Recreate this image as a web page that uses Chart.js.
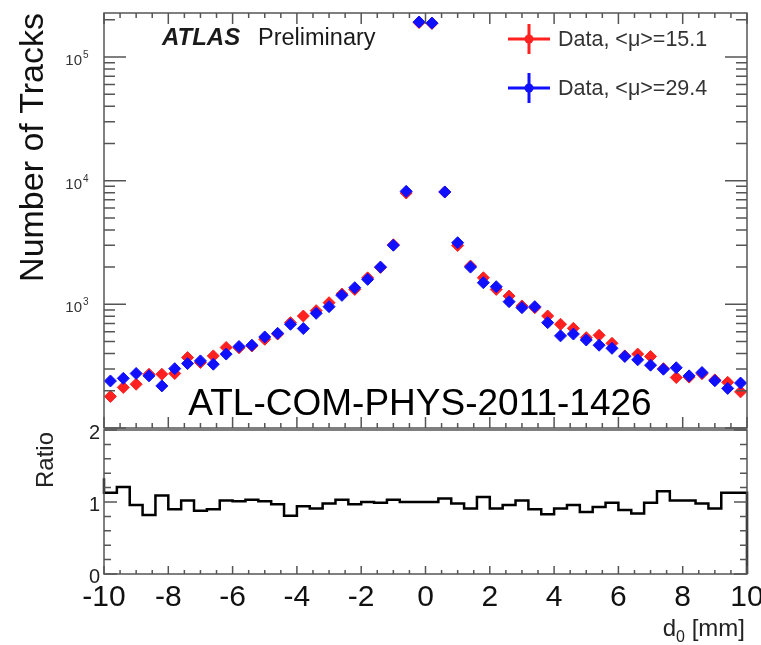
<!DOCTYPE html>
<html>
<head>
<meta charset="utf-8">
<script src="https://cdn.jsdelivr.net/npm/chart.js@4.4.1/dist/chart.umd.min.js"></script>
<style>
  body { margin: 0; background: #fff; }
  #wrap { position: relative; width: 761px; height: 645px; }
  canvas { position: absolute; left: 0; top: 0; }
</style>
</head>
<body>
<div id="wrap">
  <canvas id="tracks" width="761" height="645"></canvas>
  <canvas id="ratio" width="761" height="645"></canvas>
</div>
<script>
// bin centres of d0 [mm] (0.4 mm bins)
const binCenters = [-9.8, -9.4, -9.0, -8.6, -8.2, -7.8, -7.4, -7.0, -6.6, -6.2,
  -5.8, -5.4, -5.0, -4.6, -4.2, -3.8, -3.4, -3.0, -2.6, -2.2,
  -1.8, -1.4, -1.0, -0.6, -0.2, 0.2, 0.6, 1.0, 1.4, 1.8,
  2.2, 2.6, 3.0, 3.4, 3.8, 4.2, 4.6, 5.0, 5.4, 5.8,
  6.2, 6.6, 7.0, 7.4, 7.8, 8.2, 8.6, 9.0, 9.4, 9.8];
const binHalfWidth = 0.2;

// Data, <mu>=15.1 (rood)
const tracksMu15 = [180, 213, 226, 272, 272, 276, 371, 339, 383, 448,
  445, 461, 522, 575, 711, 805, 889, 1031, 1211, 1321,
  1637, 1990, 3030, 7950, 190000, 187000, 8100, 2990, 2040, 1640,
  1321, 1167, 970, 940, 805, 690, 640, 538, 562, 484,
  383, 396, 379, 302, 256, 258, 275, 245, 234, 196];

// Data, <mu>=29.4 (blauw)
const tracksMu29 = [240, 252, 276, 264, 219, 302, 332, 349, 328, 396,
  456, 467, 545, 583, 690, 637, 846, 958, 1182, 1363,
  1592, 2000, 3007, 8200, 192000, 188000, 8110, 3150, 2000, 1496,
  1389, 1051, 940, 958, 711, 556, 575, 515, 467, 441,
  379, 356, 322, 299, 307, 264, 281, 241, 209, 231];

// ratio 29.4 / 15.1
const ratioValues = [1.33, 1.13, 1.21, 0.96, 0.82, 1.09, 0.90, 1.02, 0.88, 0.90,
  1.02, 1.01, 1.03, 1.01, 0.97, 0.81, 0.94, 0.91, 0.98, 1.03,
  0.97, 1.00, 0.99, 1.03, 1.00, 1.00, 1.00, 1.05, 0.98, 0.91,
  1.07, 0.91, 0.96, 1.02, 0.90, 0.83, 0.91, 0.96, 0.86, 0.93,
  0.99, 0.89, 0.84, 0.99, 1.15, 1.02, 1.02, 0.98, 0.91, 1.13];

const xTickLabels = [-10, -8, -6, -4, -2, 0, 2, 4, 6, 8, 10];
const yDecades = [1000, 10000, 100000];
const yDecadeExp = ['3', '4', '5'];
const ratioTickLabels = [0, 1, 2];

const seriesNames = ['Data, <\u03bc>=15.1', 'Data, <\u03bc>=29.4'];
const FONT = '"Liberation Sans", Arial, sans-serif';

// ROOT-achtige ticks naar binnen
function xTicks(ctx, x, yEdge, dir, majLen, minLen) {
  for (let v = -10; v <= 10.001; v += 0.5) {
    const px = x.getPixelForValue(v);
    const major = Math.abs(v / 2 - Math.round(v / 2)) < 1e-6;
    const len = major ? majLen : minLen;
    ctx.beginPath();
    ctx.moveTo(px, yEdge);
    ctx.lineTo(px, yEdge + dir * len);
    ctx.stroke();
  }
}

const topDeco = {
  id: 'topDeco',
  afterDatasetsDraw(chart) {
    const { ctx, chartArea: a, scales: { x, y } } = chart;
    ctx.save();
    ctx.strokeStyle = '#555';
    ctx.lineWidth = 1.5;
    ctx.strokeRect(a.left, a.top, a.right - a.left, a.bottom - a.top);

    // log ticks links en rechts
    for (let d = 100; d < 1e6; d *= 10) {
      for (let m = 1; m < 10; m++) {
        const v = d * m;
        if (v < y.min || v > y.max) continue;
        const py = y.getPixelForValue(v);
        const len = m === 1 ? 22 : 11;
        ctx.beginPath();
        ctx.moveTo(a.left, py); ctx.lineTo(a.left + len, py);
        ctx.moveTo(a.right, py); ctx.lineTo(a.right - len, py);
        ctx.stroke();
      }
    }
    xTicks(ctx, x, a.top, 1, 11, 5);
    xTicks(ctx, x, a.bottom, -1, 11, 5);

    // y labels 10^n
    ctx.fillStyle = '#333';
    yDecades.forEach((v, i) => {
      const py = y.getPixelForValue(v) + 8;
      ctx.font = '15px ' + FONT;
      ctx.textAlign = 'right';
      ctx.textBaseline = 'alphabetic';
      ctx.fillText('10', 82, py);
      ctx.font = '10px ' + FONT;
      ctx.textAlign = 'left';
      ctx.fillText(yDecadeExp[i], 83, py - 7);
    });

    // y titel
    ctx.save();
    ctx.translate(43, 13);
    ctx.rotate(-Math.PI / 2);
    ctx.font = '34px ' + FONT;
    ctx.fillStyle = '#111';
    ctx.textAlign = 'right';
    ctx.fillText('Number of Tracks', 0, 0);
    ctx.restore();

    // ATLAS Preliminary
    ctx.fillStyle = '#1a1a1a';
    ctx.textAlign = 'left';
    ctx.font = 'italic bold 24px ' + FONT;
    ctx.fillText('ATLAS', 162, 45);
    ctx.font = '23.5px ' + FONT;
    ctx.fillText('Preliminary', 258, 45);

    // legenda
    const legY = [39, 88];
    const legCol = ['#ff2020', '#1010ff'];
    legY.forEach((ly, i) => {
      ctx.strokeStyle = legCol[i];
      ctx.fillStyle = legCol[i];
      ctx.lineWidth = 3;
      ctx.beginPath();
      ctx.moveTo(508, ly); ctx.lineTo(550, ly);
      ctx.moveTo(529, ly - 15); ctx.lineTo(529, ly + 15);
      ctx.stroke();
      ctx.beginPath();
      ctx.arc(529, ly, 4.5, 0, Math.PI * 2);
      ctx.fill();
      ctx.fillStyle = '#333';
      ctx.font = '21.5px ' + FONT;
      ctx.textBaseline = 'alphabetic';
      ctx.fillText(seriesNames[i], 558, ly + 7);
    });

    // document nummer
    ctx.fillStyle = '#000';
    ctx.font = '37px ' + FONT;
    ctx.textAlign = 'center';
    ctx.fillText('ATL-COM-PHYS-2011-1426', 420, 415);
    ctx.restore();
  }
};

const bottomDeco = {
  id: 'bottomDeco',
  afterDatasetsDraw(chart) {
    const { ctx, chartArea: a, scales: { x, y } } = chart;
    ctx.save();
    ctx.strokeStyle = '#555';
    ctx.lineWidth = 1.5;
    ctx.strokeRect(a.left, a.top, a.right - a.left, a.bottom - a.top);
    for (let i = 0; i <= 10; i++) {
      const v = i * 0.2;
      const py = y.getPixelForValue(v);
      const len = i % 5 === 0 ? 13 : 7;
      ctx.beginPath();
      ctx.moveTo(a.left, py); ctx.lineTo(a.left + len, py);
      ctx.moveTo(a.right, py); ctx.lineTo(a.right - len, py);
      ctx.stroke();
    }
    xTicks(ctx, x, a.bottom, -1, 8, 4);

    // ratio labels
    ctx.fillStyle = '#222';
    ctx.font = '20px ' + FONT;
    ctx.textAlign = 'right';
    ctx.textBaseline = 'alphabetic';
    ratioTickLabels.forEach(v => {
      ctx.fillText(String(v), 100, y.getPixelForValue(v) + 9);
    });

    // x labels
    ctx.fillStyle = '#111';
    ctx.font = '30px ' + FONT;
    ctx.textAlign = 'center';
    xTickLabels.forEach(v => {
      ctx.fillText(String(v), x.getPixelForValue(v), 606);
    });

    // x titel d0 [mm]
    ctx.fillStyle = '#222';
    ctx.font = '24px ' + FONT;
    const w1 = ctx.measureText('d').width;
    const w3 = ctx.measureText(' [mm]').width;
    ctx.font = '16px ' + FONT;
    const w2 = ctx.measureText('0').width;
    let xs = 745 - (w1 + w2 + w3);
    ctx.textAlign = 'left';
    ctx.font = '24px ' + FONT;
    ctx.fillText('d', xs, 636);
    ctx.font = '16px ' + FONT;
    ctx.fillText('0', xs + w1, 642);
    ctx.font = '24px ' + FONT;
    ctx.fillText(' [mm]', xs + w1 + w2, 636);

    // y titel Ratio
    ctx.save();
    ctx.translate(53, 432);
    ctx.rotate(-Math.PI / 2);
    ctx.font = '24px ' + FONT;
    ctx.fillStyle = '#222';
    ctx.textAlign = 'right';
    ctx.fillText('Ratio', 0, 0);
    ctx.restore();
    ctx.restore();
  }
};

const baseOptions = {
  responsive: false,
  animation: false,
  events: [],
  plugins: { legend: { display: false }, tooltip: { enabled: false } }
};

new Chart(document.getElementById('tracks').getContext('2d'), {
  type: 'scatter',
  data: {
    datasets: [
      {
        label: seriesNames[1],
        data: binCenters.map((c, i) => ({ x: c, y: tracksMu29[i] })),
        pointStyle: 'rectRot',
        pointRadius: 6,
        backgroundColor: '#1010ff',
        borderColor: '#1010ff',
        order: 0
      },
      {
        label: seriesNames[0],
        data: binCenters.map((c, i) => ({ x: c, y: tracksMu15[i] })),
        pointStyle: 'rectRot',
        pointRadius: 6,
        backgroundColor: '#ff2020',
        borderColor: '#ff2020',
        order: 1
      }
    ]
  },
  options: {
    ...baseOptions,
    layout: { padding: { left: 104, top: 13, right: 14, bottom: 217 } },
    scales: {
      x: { type: 'linear', min: -10, max: 10, display: false },
      y: { type: 'logarithmic', min: 100, max: 227000, display: false }
    }
  },
  plugins: [topDeco]
});

// stappen-histogram van de ratio
const ratioPoints = binCenters.map((c, i) => ({ x: c - binHalfWidth, y: ratioValues[i] }));
ratioPoints.push({ x: 10, y: ratioValues[ratioValues.length - 1] });
ratioPoints.push({ x: 10, y: 0 });

new Chart(document.getElementById('ratio').getContext('2d'), {
  type: 'line',
  data: {
    datasets: [{
      label: 'Ratio',
      data: ratioPoints,
      stepped: 'after',
      borderColor: '#000',
      borderWidth: 2.5,
      pointRadius: 0,
      fill: false,
      clip: false
    }]
  },
  options: {
    ...baseOptions,
    layout: { padding: { left: 104, top: 430, right: 14, bottom: 71 } },
    scales: {
      x: { type: 'linear', min: -10, max: 10, display: false },
      y: { type: 'linear', min: 0, max: 2, display: false }
    }
  },
  plugins: [bottomDeco]
});
</script>
</body>
</html>
